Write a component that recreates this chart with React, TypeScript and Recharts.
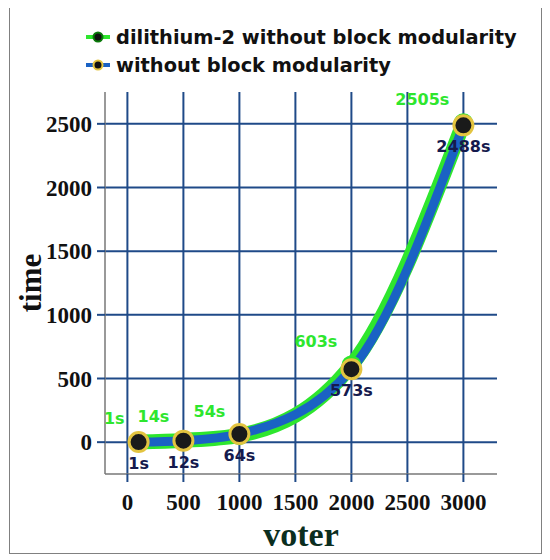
import React from 'react';
import {
    LineChart,
    Line,
    XAxis,
    YAxis,
    CartesianGrid,
    LabelList,
} from 'recharts';

// voters per election run and the time taken (seconds)
const voters = [100, 500, 1000, 2000, 3000];
const dilithiumTimes = [1, 14, 54, 603, 2505];
const plainTimes = [1, 12, 64, 573, 2488];

const xTicks = [0, 500, 1000, 1500, 2000, 2500, 3000];
const yTicks = [0, 500, 1000, 1500, 2000, 2500];

const seriesNames = ['dilithium-2 without block modularity', 'without block modularity'];

const GREEN = '#2ee62e';
const BLUE = '#1a62c4';
const GRID = '#1f4a88';
const GOLD = '#e3c440';
const NAVY = '#151a4d';

const data = voters.map((v, i) => ({
    voter: v,
    dilithium: dilithiumTimes[i],
    plain: plainTimes[i],
}));

const labelFont = { fontFamily: '"DejaVu Sans", Verdana, sans-serif', fontWeight: 'bold', fontSize: 16 };
const tickFont = { fontFamily: '"Liberation Serif", "Times New Roman", serif', fontWeight: 'bold', fontSize: 23, fill: '#111' };

function LegendIcon({ line, ring }: { line: string; ring: string }) {
    return (
        <svg width={28} height={14} style={{ marginRight: 3 }}>
            <line x1={1} y1={7} x2={25} y2={7} stroke={line} strokeWidth={4} />
            <circle cx={13} cy={7} r={4.5} fill="#111" stroke={ring} strokeWidth={2} />
        </svg>
    );
}

export default function App() {
    return (
        <div style={{ position: 'relative', width: 550, height: 560, marginLeft: -8, marginTop: -8, background: '#fff' }}>
            <div
                style={{
                    position: 'absolute',
                    left: 9,
                    top: 7,
                    width: 533,
                    height: 547,
                    border: '1.5px solid #808080',
                    boxSizing: 'border-box',
                }}
            />
            <LineChart width={550} height={560} data={data} margin={{ top: 92, right: 53, left: 0, bottom: 0 }}>
                <CartesianGrid stroke={GRID} strokeWidth={2} horizontalValues={yTicks} verticalValues={xTicks} />
                <XAxis
                    type="number"
                    dataKey="voter"
                    domain={[-200, 3300]}
                    ticks={xTicks}
                    height={86}
                    axisLine={{ stroke: '#777', strokeWidth: 1.5 }}
                    tickLine={{ stroke: GRID, strokeWidth: 2 }}
                    tickSize={8}
                    tickMargin={12}
                    tick={tickFont}
                    label={({ viewBox }: any) => (
                        <text
                            x={viewBox.x + viewBox.width / 2}
                            y={viewBox.y + 72}
                            textAnchor="middle"
                            fontFamily='"Liberation Serif", "Times New Roman", serif'
                            fontWeight="bold"
                            fontSize={34}
                            fill="#0b2e1f"
                        >
                            voter
                        </text>
                    )}
                />
                <YAxis
                    type="number"
                    domain={[-250, 2750]}
                    ticks={yTicks}
                    width={105}
                    axisLine={{ stroke: '#777', strokeWidth: 1.5 }}
                    tickLine={{ stroke: GRID, strokeWidth: 2 }}
                    tickSize={8}
                    tickMargin={5}
                    tick={tickFont}
                    label={({ viewBox }: any) => {
                        const cx = viewBox.x + 30;
                        const cy = viewBox.y + viewBox.height / 2;
                        return (
                            <text
                                x={cx}
                                y={cy}
                                dy={11}
                                transform={`rotate(-90 ${cx} ${cy})`}
                                textAnchor="middle"
                                fontFamily='"Liberation Serif", "Times New Roman", serif'
                                fontWeight="bold"
                                fontSize={31}
                                fill="#111"
                            >
                                time
                            </text>
                        );
                    }}
                />
                <Line
                    type="monotone"
                    dataKey="dilithium"
                    stroke={GREEN}
                    strokeWidth={15}
                    dot={{ r: 9, fill: GREEN, stroke: GREEN, strokeWidth: 2 }}
                    isAnimationActive={false}
                >
                    <LabelList
                        dataKey="dilithium"
                        content={({ x, y, value }: any) => (
                            <text x={x - 14} y={y - 24} dy={6} textAnchor="end" fill={GREEN} {...labelFont}>
                                {value}s
                            </text>
                        )}
                    />
                </Line>
                <Line
                    type="monotone"
                    dataKey="plain"
                    stroke={BLUE}
                    strokeWidth={9}
                    dot={{ r: 9.5, fill: '#1a1a1a', stroke: GOLD, strokeWidth: 3 }}
                    isAnimationActive={false}
                >
                    <LabelList
                        dataKey="plain"
                        content={({ x, y, value }: any) => (
                            <text x={x} y={y + 21} dy={6} textAnchor="middle" fill={NAVY} {...labelFont}>
                                {value}s
                            </text>
                        )}
                    />
                </Line>
            </LineChart>
            <div
                style={{
                    position: 'absolute',
                    left: 85,
                    top: 23,
                    fontFamily: '"DejaVu Sans", Verdana, sans-serif',
                    fontWeight: 'bold',
                    fontSize: 19.4,
                    color: '#111',
                }}
            >
                <div style={{ display: 'flex', alignItems: 'center', height: 28 }}>
                    <LegendIcon line={GREEN} ring="#0a7a0a" />
                    {seriesNames[0]}
                </div>
                <div style={{ display: 'flex', alignItems: 'center', height: 28 }}>
                    <LegendIcon line={BLUE} ring={GOLD} />
                    {seriesNames[1]}
                </div>
            </div>
        </div>
    );
}
